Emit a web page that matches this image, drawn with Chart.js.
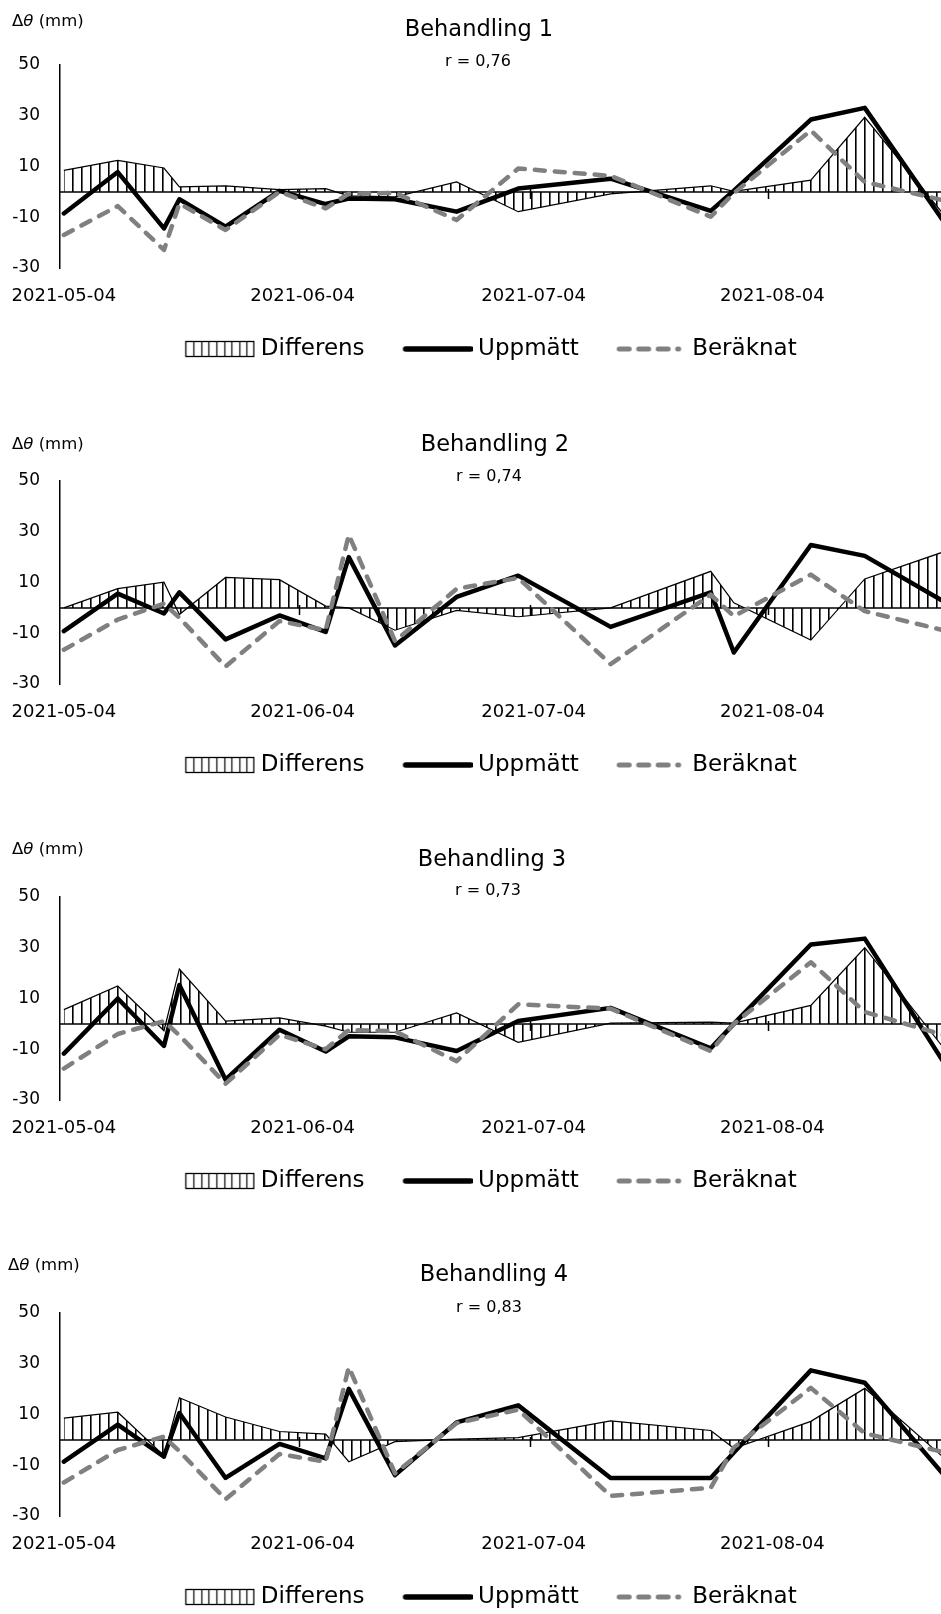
<!DOCTYPE html>
<html><head><meta charset="utf-8">
<script src="https://cdn.jsdelivr.net/npm/chart.js@4.4.1/dist/chart.umd.min.js"></script>
<style>
html,body{margin:0;padding:0;background:#fff;}
body{width:941px;height:1614px;position:relative;overflow:hidden;font-family:"DejaVu Sans",sans-serif;color:#000;}
.panel{position:absolute;left:0;width:941px;height:366px;}
.panel canvas{position:absolute;left:0;top:0;}
.t{position:absolute;white-space:nowrap;line-height:1.2;transform:translate(-50%,-50%);}
.yl{position:absolute;white-space:nowrap;line-height:1.2;transform:translateY(-50%);font-size:16.5px;}
</style></head><body>
<script>
// ---------- data ----------
const DATES = ['2021-05-04','2021-05-11','2021-05-17','2021-05-19','2021-05-25','2021-06-01','2021-06-07','2021-06-10','2021-06-16','2021-06-24','2021-07-02','2021-07-14','2021-07-27','2021-07-30','2021-08-09','2021-08-16','2021-08-30'];
const TICK_DATES = ['2021-05-04','2021-06-04','2021-07-04','2021-08-04'];
const Y_TICKS = [-30,-10,10,30,50];
const SERIES_NAMES = ['Differens','Uppmätt','Beräknat'];
const TITLES = ['Behandling 1','Behandling 2','Behandling 3','Behandling 4'];
const R_TEXT = ['r = 0,76','r = 0,74','r = 0,73','r = 0,83'];

const UPP_1  = [-8.5, 7.8,-14.4,-2.9,-13.7, 0.4,-4.8,-2.6,-2.9,-7.8, 1.3, 5.2,-7.5, 0.5,28.5,33.1,-28];
const BER_1  = [-17.0,-5.6,-22.9,-4.6,-15.0, 0.0,-6.5,-0.7,-0.4,-11.1, 9.2, 6.3,-9.8,-0.5,24.2, 3.9,-6];
const DIFF_1 = [8.5,12.4, 9.4, 2.0, 2.4, 0.9, 1.3,-1.6,-2.0, 3.9,-7.8,-0.8, 2.4, 0.2, 4.6,29.4,-23];

const UPP_2  = [-9.2, 5.6,-2.2, 6.1,-12.4,-3.0,-9.5,20.0,-14.8, 4.3,12.7,-7.5, 6.1,-17.6,24.8,20.5,-4];
const BER_2  = [-16.5,-4.6, 1.7,-3.9,-23.1,-5.2,-8.8,28.8,-13.1, 7.5,11.8,-22.2, 5.2,-3.3,13.1,-1.3,-11.6];
const DIFF_2 = [0.0, 7.6,10.1,-2.6,12.0,11.1, 0.7, 0.0,-8.8,-1.0,-3.5, 0.0,14.4, 2.0,-12.7,11.4,26];

const UPP_3  = [-11.7,10.0,-8.7,15.3,-22.0,-2.3,-10.9,-4.9,-5.3,-10.7, 1.1, 6.3,-9.6, 0.0,31.3,33.6,-33];
const BER_3  = [-17.6,-4.0, 1.1,-4.5,-23.6,-4.3,-10.0,-2.4,-2.9,-14.7, 7.7, 6.0,-10.7, 0.0,24.3, 4.7,-7.7];
const DIFF_3 = [5.6,14.9,-2.7,21.6, 1.1, 2.4,-0.9,-3.3,-3.3, 4.3,-7.3, 0.3, 0.7, 0.3, 7.3,30.0,-24];

const UPP_4  = [-8.6, 6.0,-6.6,10.6,-15.0,-1.6,-7.3,20.1,-13.9, 6.9,13.6,-15.0,-15.0,-5.0,27.4,22.5,-27];
const BER_4  = [-16.8,-4.0, 1.3,-4.5,-23.4,-5.6,-8.6,28.7,-13.2, 6.6,11.9,-22.1,-18.9,-3.0,20.5, 2.6,-7.6];
const DIFF_4 = [8.6,10.9,-6.2,16.6, 9.0, 3.3, 2.3,-8.6,-0.7, 0.3, 0.9, 7.5, 3.7,-3.3, 7.3,20.3,-17];

// ---------- layout constants ----------
const FONT = '"DejaVu Sans", sans-serif';
const PANEL_TOP = [0,416,832,1248];
const TEXT_POS = [
  {tx:479, ty:28, sx:478, sy:61, lx:12, ly:21},
  {tx:495, ty:27, sx:489, sy:60, lx:12, ly:28},
  {tx:492, ty:26, sx:488, sy:58, lx:12, ly:17},
  {tx:494, ty:25, sx:489, sy:59, lx:8,  ly:17}
];
const LEFT_PAD = 41;
const AXIS_LEFT = 60;
const X_MAX = 113.9;
const LEG_BOX = 64;

const dayOf = s => { const [y,m,d] = s.split('-').map(Number); return Math.round((Date.UTC(y,m-1,d) - Date.UTC(2021,4,4)) / 86400000); };
const XS = DATES.map(dayOf);
const TICK_DAYS = TICK_DATES.map(dayOf);

const PANELS = [
  {upp:UPP_1, ber:BER_1, diff:DIFF_1},
  {upp:UPP_2, ber:BER_2, diff:DIFF_2},
  {upp:UPP_3, ber:BER_3, diff:DIFF_3},
  {upp:UPP_4, ber:BER_4, diff:DIFF_4}
];

// ---------- legend icons (image 76 wide, content starts at local x=6) ----------
function mkIcon(){ const c=document.createElement('canvas'); c.width=76; c.height=20; return c; }
function iconHatch(){
  const c=mkIcon(); const g=c.getContext('2d'); g.strokeStyle='#000'; g.lineWidth=1.3;
  g.strokeRect(6.5,2.5,68,15);
  g.lineWidth=1.2;
  for(let k=1;k<=8;k++){ const xx=Math.round(6.5+k*7.6)+0.5; g.beginPath(); g.moveTo(xx,2.5); g.lineTo(xx,17.5); g.stroke(); }
  return c;
}
function iconLine(){
  const c=mkIcon(); const g=c.getContext('2d'); g.strokeStyle='#000'; g.lineWidth=5.5; g.lineCap='round';
  g.beginPath(); g.moveTo(9,10); g.lineTo(74,10); g.stroke(); return c;
}
function iconDash(){
  const c=mkIcon(); const g=c.getContext('2d'); g.strokeStyle='#808080'; g.lineWidth=5; g.lineCap='round';
  g.setLineDash([10,9.5]); g.beginPath(); g.moveTo(8.5,10); g.lineTo(68,10); g.stroke(); return c;
}
const ICONS = [iconHatch(), iconLine(), iconDash()];

const zeroLine = {
  id:'zeroLine',
  beforeDatasetsDraw(chart){
    const {ctx, chartArea:a, scales:{x,y}} = chart;
    const y0 = y.getPixelForValue(0);
    ctx.save(); ctx.strokeStyle='#000'; ctx.lineWidth=1.5;
    ctx.beginPath(); ctx.moveTo(a.left,y0); ctx.lineTo(a.right,y0);
    TICK_DAYS.slice(1).forEach(d=>{ const px=Math.round(x.getPixelForValue(d-0.5))+0.5; ctx.moveTo(px,y0-3); ctx.lineTo(px,y0+7); });
    ctx.stroke(); ctx.restore();
  }
};
// widen label clip areas of the axes after layout (labels would otherwise be cut)
const unclip = {
  id:'unclip',
  afterLayout(chart){ const {x,y} = chart.scales; y.left = 0; x.bottom = chart.height; }
};

PANELS.forEach((p,i)=>{
  const div=document.createElement('div'); div.className='panel'; div.style.top=PANEL_TOP[i]+'px';
  document.body.appendChild(div);
  const tp=TEXT_POS[i];
  const t=document.createElement('div'); t.className='t'; t.style.left=tp.tx+'px'; t.style.top=tp.ty+'px'; t.style.fontSize='22.5px'; t.textContent=TITLES[i]; div.appendChild(t);
  const s=document.createElement('div'); s.className='t'; s.style.left=tp.sx+'px'; s.style.top=tp.sy+'px'; s.style.fontSize='16px'; s.textContent=R_TEXT[i]; div.appendChild(s);
  const l=document.createElement('div'); l.className='yl'; l.style.left=tp.lx+'px'; l.style.top=tp.ly+'px'; l.innerHTML='Δ<i>θ</i> (mm)'; div.appendChild(l);

  const cv=document.createElement('canvas'); cv.width=941; cv.height=366; cv.style.width='941px'; cv.style.height='366px';
  div.insertBefore(cv, div.firstChild);
  const ctx=cv.getContext('2d');
  const pc=document.createElement('canvas'); pc.width=9; pc.height=9;
  const pg=pc.getContext('2d'); pg.fillStyle='#000'; pg.fillRect(0,0,1.6,9);
  const hatch=ctx.createPattern(pc,'repeat');

  new Chart(ctx,{
    type:'line',
    data:{ datasets:[
      {label:SERIES_NAMES[0], data:XS.map((x,k)=>({x, y:p.diff[k]})), fill:'origin', backgroundColor:hatch, borderColor:'#000', borderWidth:1.2, pointRadius:0, tension:0, order:3},
      {label:SERIES_NAMES[1], data:XS.map((x,k)=>({x, y:p.upp[k]})), fill:false, borderColor:'#000', borderWidth:4.5, borderJoinStyle:'round', borderCapStyle:'round', pointRadius:0, tension:0, order:2},
      {label:SERIES_NAMES[2], data:XS.map((x,k)=>({x, y:p.ber[k]})), fill:false, borderColor:'#808080', borderWidth:4.5, borderDash:[10,10], borderJoinStyle:'round', borderCapStyle:'round', pointRadius:0, tension:0, order:1}
    ]},
    options:{
      responsive:false, animation:false, devicePixelRatio:1,
      layout:{padding:{top:65, left:LEFT_PAD, right:0, bottom:-4.5}},
      plugins:{
        title:{display:false}, tooltip:{enabled:false},
        legend:{display:true, position:'bottom', align:'center',
          labels:{usePointStyle:true, pointStyleWidth:LEG_BOX, boxHeight:16, padding:38, color:'#000',
            font:{family:FONT, size:23},
            generateLabels:()=>SERIES_NAMES.map((n,k)=>({text:n, pointStyle:ICONS[k], datasetIndex:k, hidden:false, fillStyle:'rgba(0,0,0,0)', strokeStyle:'rgba(0,0,0,0)', lineWidth:0, fontColor:'#000'}))
          }
        }
      },
      scales:{
        x:{type:'linear', position:'bottom', min:-0.5, max:X_MAX,
          grid:{display:false, drawTicks:false}, border:{display:false},
          afterBuildTicks:sc=>{ sc.ticks=TICK_DAYS.map(v=>({value:v})); },
          afterFit:sc=>{ sc.height=31.5; sc.paddingLeft=0; sc.paddingRight=0; },
          ticks:{autoSkip:false, maxRotation:0, padding:18, color:'#000', font:{family:FONT, size:18},
            callback:(v,idx)=>TICK_DATES[idx]}
        },
        y:{type:'linear', position:'left', min:Y_TICKS[0], max:Y_TICKS[Y_TICKS.length-1],
          grid:{display:false, drawTicks:false}, border:{display:true, color:'#000', width:1.5},
          afterBuildTicks:sc=>{ sc.ticks=Y_TICKS.map(v=>({value:v})); },
          afterFit:sc=>{ sc.width=AXIS_LEFT-LEFT_PAD; },
          ticks:{padding:20, color:'#000', font:{family:FONT, size:17}}
        }
      }
    },
    plugins:[zeroLine, unclip]
  });
});
</script>
</body></html>
